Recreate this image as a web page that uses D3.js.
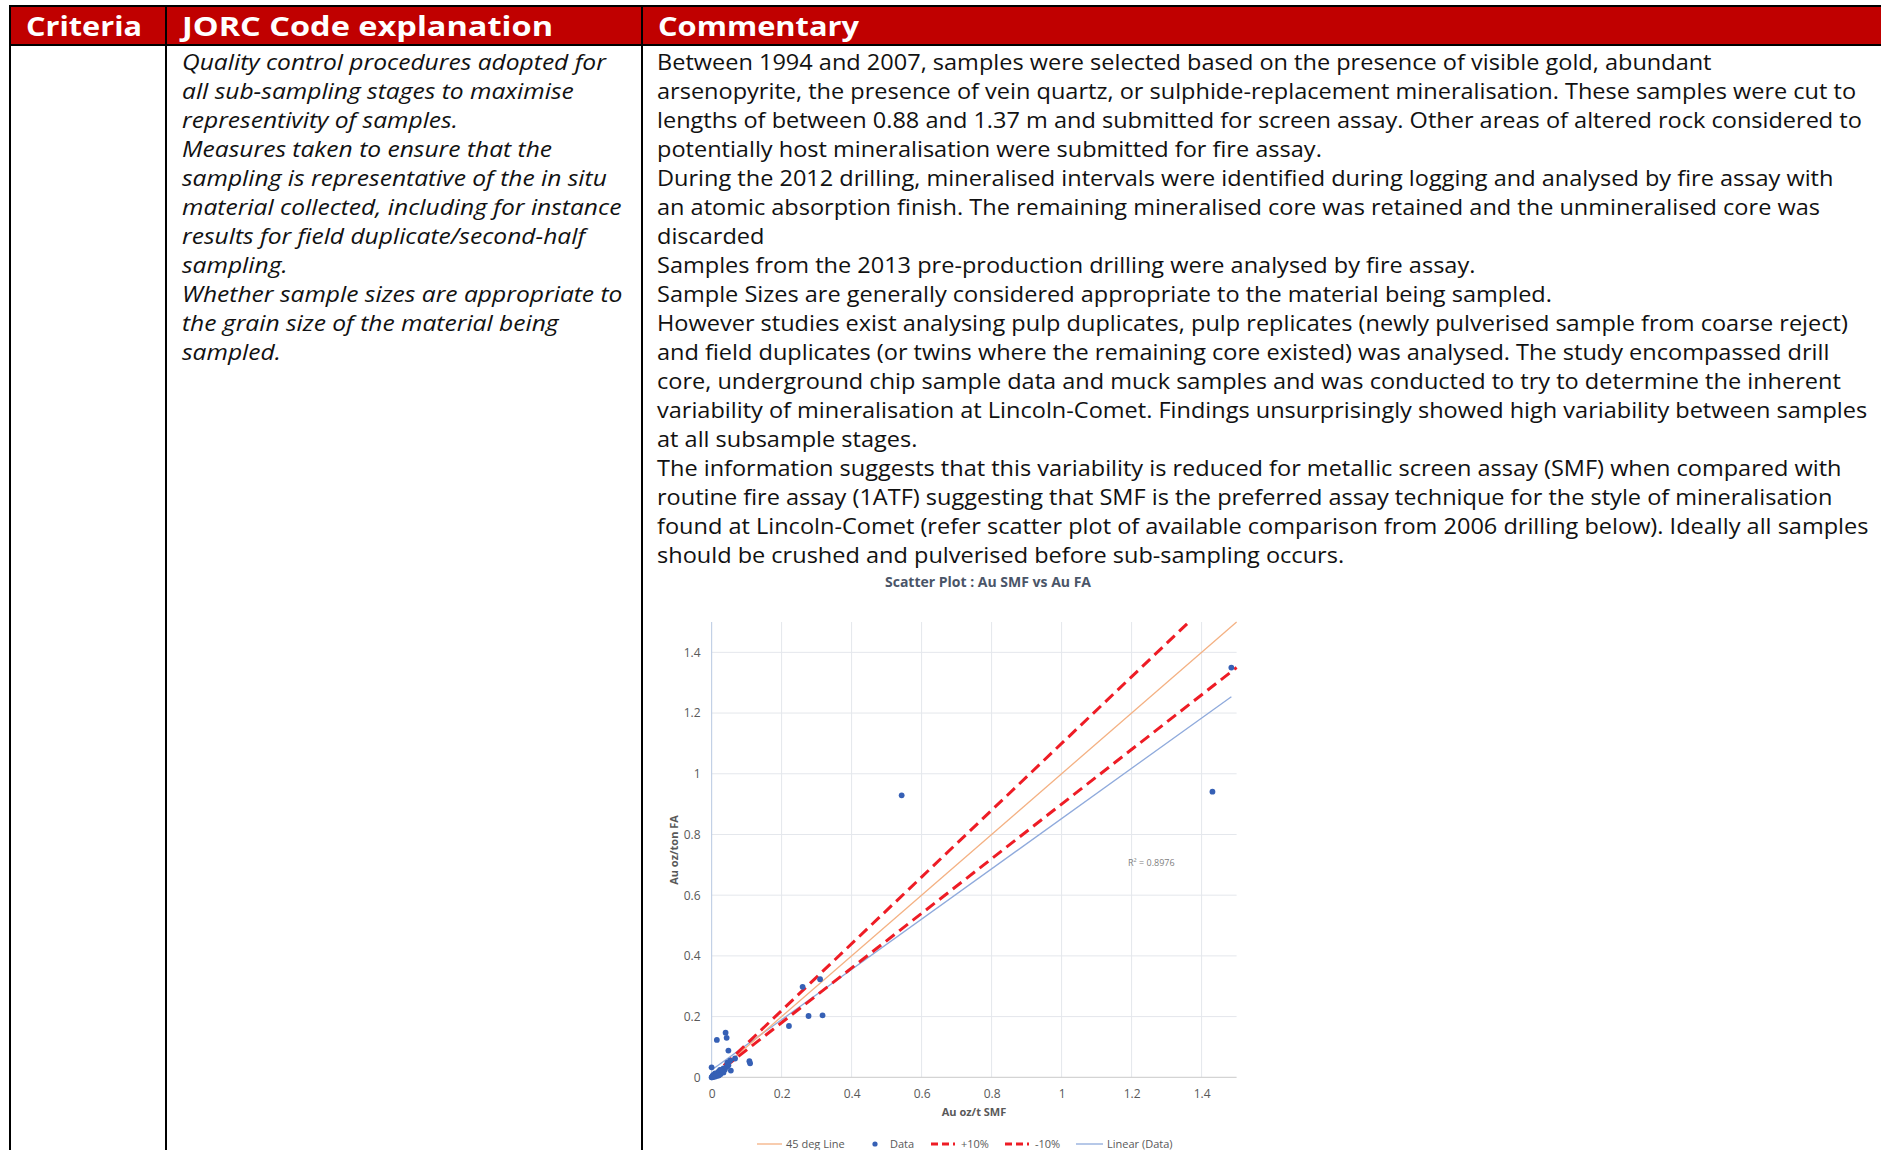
<!DOCTYPE html>
<html>
<head>
<meta charset="utf-8">
<script src="https://cdn.jsdelivr.net/npm/d3@7"></script>
<style>
  html, body { margin: 0; padding: 0; background: #fff; overflow: hidden; }
  svg { display: block; }
</style>
</head>
<body>
<svg id="page" width="1881" height="1150"></svg>
<script>
// ---------------- DATA ----------------
const headers = ["Criteria", "JORC Code explanation", "Commentary"];

const jorcLines = [
  "Quality control procedures adopted for",
  "all sub-sampling stages to maximise",
  "representivity of samples.",
  "Measures taken to ensure that the",
  "sampling is representative of the in situ",
  "material collected, including for instance",
  "results for field duplicate/second-half",
  "sampling.",
  "Whether sample sizes are appropriate to",
  "the grain size of the material being",
  "sampled."
];

const commentaryLines = [
  "Between 1994 and 2007, samples were selected based on the presence of visible gold, abundant",
  "arsenopyrite, the presence of vein quartz, or sulphide-replacement mineralisation. These samples were cut to",
  "lengths of between 0.88 and 1.37 m and submitted for screen assay. Other areas of altered rock considered to",
  "potentially host mineralisation were submitted for fire assay.",
  "During the 2012 drilling, mineralised intervals were identified during logging and analysed by fire assay with",
  "an atomic absorption finish. The remaining mineralised core was retained and the unmineralised core was",
  "discarded",
  "Samples from the 2013 pre-production drilling were analysed by fire assay.",
  "Sample Sizes are generally considered appropriate to the material being sampled.",
  "However studies exist analysing pulp duplicates, pulp replicates (newly pulverised sample from coarse reject)",
  "and field duplicates (or twins where the remaining core existed) was analysed. The study encompassed drill",
  "core, underground chip sample data and muck samples and was conducted to try to determine the inherent",
  "variability of mineralisation at Lincoln-Comet. Findings unsurprisingly showed high variability between samples",
  "at all subsample stages.",
  "The information suggests that this variability is reduced for metallic screen assay (SMF) when compared with",
  "routine fire assay (1ATF) suggesting that SMF is the preferred assay technique for the style of mineralisation",
  "found at Lincoln-Comet (refer scatter plot of available comparison from 2006 drilling below). Ideally all samples",
  "should be crushed and pulverised before sub-sampling occurs."
];

const chartTitle = "Scatter Plot : Au SMF vs Au FA";
const xTitle = "Au oz/t SMF";
const yTitle = "Au oz/ton FA";
const r2Label = "R² = 0.8976";
const tickValues = [0, 0.2, 0.4, 0.6, 0.8, 1, 1.2, 1.4];
const tickLabels = ["0", "0.2", "0.4", "0.6", "0.8", "1", "1.2", "1.4"];

// Scatter data: Au oz/t SMF (x) vs Au oz/ton FA (y)
const smf = [0.543, 1.431, 1.485, 0.260, 0.310, 0.277, 0.317, 0.221, 0.108, 0.110,
             0.015, 0.040, 0.043, 0.048, 0.055, 0.067, 0.053, 0.045, 0.000,
             0.005, 0.010, 0.019, 0.024, 0.029, 0.034, 0.038, 0.014, 0.000, 0.002,
             0.004, 0.022, 0.034, 0.043, 0.048, 0.026, 0.007, 0.012, 0.003, 0.017,
             0.030, 0.001, 0.009, 0.020];
const fa  = [0.929, 0.941, 1.350, 0.298, 0.323, 0.202, 0.204, 0.169, 0.053, 0.046,
             0.123, 0.147, 0.130, 0.088, 0.022, 0.062, 0.055, 0.048, 0.033,
             0.008, 0.013, 0.018, 0.024, 0.024, 0.029, 0.026, 0.004, 0.000, 0.002,
             0.001, 0.008, 0.016, 0.035, 0.040, 0.011, 0.004, 0.009, 0.005, 0.012,
             0.020, 0.000, 0.002, 0.006];

// Reference lines (endpoints, x then y)
const line45X = [0, 1.5],      line45Y = [0, 1.5];
const plus10X = [0, 1.364],    plus10Y = [0, 1.5];
const minus10X = [0, 1.5],     minus10Y = [0, 1.35];
const trendX = [0, 1.485],     trendY = [0.024, 1.254];

const legendLabels = ["45 deg Line", "Data", "+10%", "-10%", "Linear (Data)"];

// ---------------- DRAW ----------------
const svg = d3.select("#page");
const BODY_FONT = "'Open Sans', 'DejaVu Sans', sans-serif";
const RED = "#C00000";

// Table
const colX = [10, 166, 642];
svg.append("rect").attr("x", colX[0]).attr("y", 6).attr("width", 1881 - colX[0]).attr("height", 39).attr("fill", RED);
svg.append("line").attr("x1", colX[0] - 1).attr("x2", 1881).attr("y1", 6).attr("y2", 6).attr("stroke", "#000").attr("stroke-width", 2);
svg.append("line").attr("x1", colX[0] - 1).attr("x2", 1881).attr("y1", 45).attr("y2", 45).attr("stroke", "#000").attr("stroke-width", 2);
colX.forEach(cx => {
  svg.append("line").attr("x1", cx).attr("x2", cx).attr("y1", 5).attr("y2", 1150).attr("stroke", "#000").attr("stroke-width", 2);
});

const headerX = [26, 182, 658];
const headerW = [116, 371, 201];
svg.selectAll("text.hdr").data(headers).join("text")
  .attr("class", "hdr")
  .attr("x", (d, i) => headerX[i]).attr("y", 36)
  .attr("fill", "#fff")
  .attr("font-family", BODY_FONT).attr("font-weight", 700).attr("font-size", 26)
  .attr("textLength", (d, i) => headerW[i]).attr("lengthAdjust", "spacingAndGlyphs")
  .text(d => d);

// stretch body text horizontally to match the wider original typeface
function widen(sel, k) {
  sel.each(function () {
    const w = this.getComputedTextLength();
    d3.select(this).attr("textLength", w * k).attr("lengthAdjust", "spacingAndGlyphs");
  });
}

const lineH = 29, firstBase = 70;
const jorc = svg.selectAll("text.jorc").data(jorcLines).join("text")
  .attr("class", "jorc")
  .attr("x", 182).attr("y", (d, i) => firstBase + i * lineH)
  .attr("fill", "#111")
  .attr("font-family", BODY_FONT).attr("font-style", "italic").attr("font-size", 21)
  .text(d => d);
widen(jorc, 1.17);

const comm = svg.selectAll("text.comm").data(commentaryLines).join("text")
  .attr("class", "comm")
  .attr("x", 657).attr("y", (d, i) => firstBase + i * lineH)
  .attr("fill", "#111")
  .attr("font-family", BODY_FONT).attr("font-size", 21)
  .text(d => d);
widen(comm, 1.12);

// Chart
const x = d3.scaleLinear().domain([0, 1.5]).range([711.6, 1236.6]);
const y = d3.scaleLinear().domain([0, 1.5]).range([1077.3, 622]);
const chart = svg.append("g").attr("class", "chart");
const GRAY = "#595959";
const CHART_FONT = "'Open Sans', 'Liberation Sans', sans-serif";

// gridlines
chart.append("g").selectAll("line").data(tickValues.filter(v => v > 0)).join("line")
  .attr("x1", x(0)).attr("x2", x(1.5)).attr("y1", d => y(d)).attr("y2", d => y(d))
  .attr("stroke", "#E4E7EC").attr("stroke-width", 1);
chart.append("g").selectAll("line").data(tickValues.filter(v => v > 0)).join("line")
  .attr("y1", y(0)).attr("y2", y(1.5)).attr("x1", d => x(d)).attr("x2", d => x(d))
  .attr("stroke", "#E4E7EC").attr("stroke-width", 1);

// axes lines
chart.append("line").attr("x1", x(0)).attr("x2", x(1.5)).attr("y1", y(0)).attr("y2", y(0))
  .attr("stroke", "#D4D4D4").attr("stroke-width", 1.2);
chart.append("line").attr("x1", x(0)).attr("x2", x(0)).attr("y1", y(0)).attr("y2", y(1.5))
  .attr("stroke", "#C3D1E6").attr("stroke-width", 1.2);

const fmt = d => tickLabels[tickValues.indexOf(d)];
const xAxis = chart.append("g").attr("transform", `translate(0,${y(0)})`)
  .call(d3.axisBottom(x).tickValues(tickValues).tickFormat(fmt).tickSize(0).tickPadding(12));
const yAxis = chart.append("g").attr("transform", `translate(${x(0)},0)`)
  .call(d3.axisLeft(y).tickValues(tickValues).tickFormat(fmt).tickSize(0).tickPadding(11));
[xAxis, yAxis].forEach(g => {
  g.select(".domain").remove();
  g.selectAll("text").attr("fill", GRAY).attr("font-family", CHART_FONT).attr("font-size", 12);
});

// titles
chart.append("text").attr("x", 988).attr("y", 587).attr("text-anchor", "middle")
  .attr("fill", "#4A5568").attr("font-family", CHART_FONT).attr("font-weight", 700).attr("font-size", 14)
  .text(chartTitle);
chart.append("text").attr("x", 974).attr("y", 1116).attr("text-anchor", "middle")
  .attr("fill", GRAY).attr("font-family", CHART_FONT).attr("font-weight", 700).attr("font-size", 11)
  .text(xTitle);
chart.append("text").attr("transform", "translate(678,850) rotate(-90)").attr("text-anchor", "middle")
  .attr("fill", GRAY).attr("font-family", CHART_FONT).attr("font-weight", 700).attr("font-size", 11)
  .text(yTitle);
chart.append("text").attr("x", 1128).attr("y", 866)
  .attr("fill", "#7F7F7F").attr("font-family", CHART_FONT).attr("font-size", 9)
  .text(r2Label);

// reference lines
const lineGen = d3.line().x(d => x(d[0])).y(d => y(d[1]));
const pairs = (xs, ys) => xs.map((v, i) => [v, ys[i]]);
chart.append("path").attr("d", lineGen(pairs(trendX, trendY)))
  .attr("fill", "none").attr("stroke", "#8FAADC").attr("stroke-width", 1.3);
chart.append("path").attr("d", lineGen(pairs(line45X, line45Y)))
  .attr("fill", "none").attr("stroke", "#F4B183").attr("stroke-width", 1.3);
chart.append("path").attr("d", lineGen(pairs(plus10X, plus10Y)))
  .attr("fill", "none").attr("stroke", "#EE1C25").attr("stroke-width", 3).attr("stroke-dasharray", "11,6");
chart.append("path").attr("d", lineGen(pairs(minus10X, minus10Y)))
  .attr("fill", "none").attr("stroke", "#EE1C25").attr("stroke-width", 3).attr("stroke-dasharray", "11,6");

// data points
chart.append("g").selectAll("circle").data(smf.map((v, i) => [v, fa[i]])).join("circle")
  .attr("cx", d => x(d[0])).attr("cy", d => y(d[1])).attr("r", 2.9)
  .attr("fill", "#3660B5");

// legend
const leg = chart.append("g").attr("font-family", CHART_FONT).attr("font-size", 11).attr("fill", GRAY);
const ly = 1144;
leg.append("line").attr("x1", 757).attr("x2", 782).attr("y1", ly).attr("y2", ly).attr("stroke", "#F4B183").attr("stroke-width", 1.3);
leg.append("text").attr("x", 786).attr("y", ly + 4).text(legendLabels[0]);
leg.append("circle").attr("cx", 875).attr("cy", ly).attr("r", 2.6).attr("fill", "#3660B5");
leg.append("text").attr("x", 890).attr("y", ly + 4).text(legendLabels[1]);
leg.append("line").attr("x1", 931).attr("x2", 955).attr("y1", ly).attr("y2", ly).attr("stroke", "#EE1C25").attr("stroke-width", 3).attr("stroke-dasharray", "7,4");
leg.append("text").attr("x", 961).attr("y", ly + 4).text(legendLabels[2]);
leg.append("line").attr("x1", 1005).attr("x2", 1029).attr("y1", ly).attr("y2", ly).attr("stroke", "#EE1C25").attr("stroke-width", 3).attr("stroke-dasharray", "7,4");
leg.append("text").attr("x", 1035).attr("y", ly + 4).text(legendLabels[3]);
leg.append("line").attr("x1", 1076).attr("x2", 1103).attr("y1", ly).attr("y2", ly).attr("stroke", "#8FAADC").attr("stroke-width", 1.3);
leg.append("text").attr("x", 1107).attr("y", ly + 4).text(legendLabels[4]);
</script>
</body>
</html>
